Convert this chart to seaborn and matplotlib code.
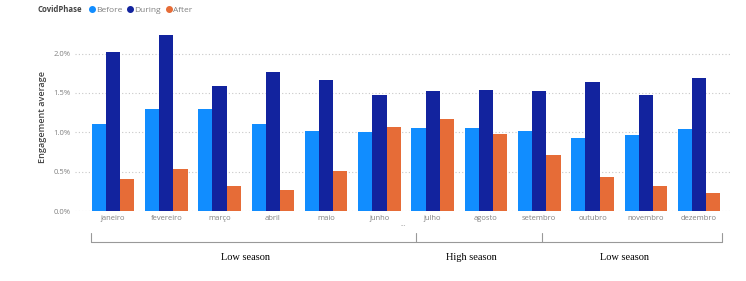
import pandas as pd
import seaborn as sns
import matplotlib.pyplot as plt
from matplotlib.lines import Line2D
from matplotlib.ticker import FuncFormatter

# Data (engagement average, in %)
months = ['janeiro', 'fevereiro', 'março', 'abril', 'maio', 'junho',
          'julho', 'agosto', 'setembro', 'outubro', 'novembro', 'dezembro']
phases = ['Before', 'During', 'After']
before = [1.11, 1.29, 1.30, 1.11, 1.02, 1.01, 1.05, 1.06, 1.02, 0.93, 0.96, 1.04]
during = [2.02, 2.24, 1.59, 1.76, 1.67, 1.48, 1.53, 1.54, 1.53, 1.64, 1.48, 1.69]
after = [0.41, 0.54, 0.32, 0.27, 0.51, 1.07, 1.17, 0.98, 0.71, 0.43, 0.32, 0.23]
y_ticks = [0.0, 0.5, 1.0, 1.5, 2.0]

# season brackets
season_labels = ['Low season', 'High season', 'Low season']
bracket_px = [91, 416, 542, 722]  # bracket edges, pixel x

colors = {'Before': '#118DFF', 'During': '#12239E', 'After': '#E66C37'}

rows = []
for i, m in enumerate(months):
    for p, vals in zip(phases, [before, during, after]):
        rows.append({'Month': m, 'CovidPhase': p, 'Engagement': vals[i]})
df = pd.DataFrame(rows)

sns.set_theme(style='white')
plt.rcParams['font.family'] = ['Open Sans', 'DejaVu Sans']

fig = plt.figure(figsize=(7.46, 2.81), dpi=100)
W, H = 746, 281
ax = fig.add_axes([75 / W, (H - 211) / H, (730 - 75) / W, (211 - 30) / H])

sns.barplot(data=df, x='Month', y='Engagement', hue='CovidPhase',
            order=months, hue_order=phases, palette=colors,
            width=0.8, saturation=1, errorbar=None, legend=False, ax=ax,
            linewidth=0, zorder=3)

ax.set_xlim(-0.713, 11.58)
ax.set_ylim(0, 2.3)
ax.set_yticks(y_ticks)
ax.yaxis.set_major_formatter(FuncFormatter(lambda v, _: f'{v:.1f}%'))
ax.grid(axis='y', linestyle=(0, (1, 2)), color='#c8c8c8', linewidth=0.8, zorder=0)
ax.grid(axis='x', visible=False)
for s in ax.spines.values():
    s.set_visible(False)
ax.tick_params(axis='both', length=0, labelsize=5.5, colors='#808080', pad=3)
ax.set_xlabel('')
ax.set_ylabel('Engagement average', fontsize=6.5, color='#444444',
              fontweight='semibold')
ax.yaxis.set_label_coords(-0.043, 0.52)

# Legend on top
fig.text(38 / W, 1 - 10 / H, 'CovidPhase', fontsize=5.6, fontweight='bold',
         color='#444444', va='center', ha='left')
handles = [Line2D([], [], marker='o', linestyle='', markersize=4,
                  color=colors[p]) for p in phases]
fig.legend(handles, phases, loc='center left', bbox_to_anchor=(84 / W, 1 - 10 / H),
           ncol=3, frameon=False, fontsize=6, handletextpad=0.05,
           columnspacing=0.4, labelcolor='#808080', borderaxespad=0,
           handlelength=1.0)

# Season brackets below the axis
line_y = 1 - 242 / H
tick_top = 1 - 233 / H
fig.add_artist(Line2D([bracket_px[0] / W, bracket_px[-1] / W], [line_y, line_y],
                      color='#999999', linewidth=0.8))
for e in bracket_px:
    fig.add_artist(Line2D([e / W, e / W], [line_y, tick_top],
                          color='#999999', linewidth=0.8))
for label, l, r in zip(season_labels, bracket_px[:-1], bracket_px[1:]):
    fig.text(((l + r) / 2 - 8) / W, 1 - 257 / H, label, ha='center', va='center',
             fontsize=7.5, family='Liberation Serif', color='black')

fig.text(403 / W, 1 - 224 / H, '...', ha='center', va='center',
         fontsize=5, color='#888888')

fig.savefig('out.png', dpi=100)
